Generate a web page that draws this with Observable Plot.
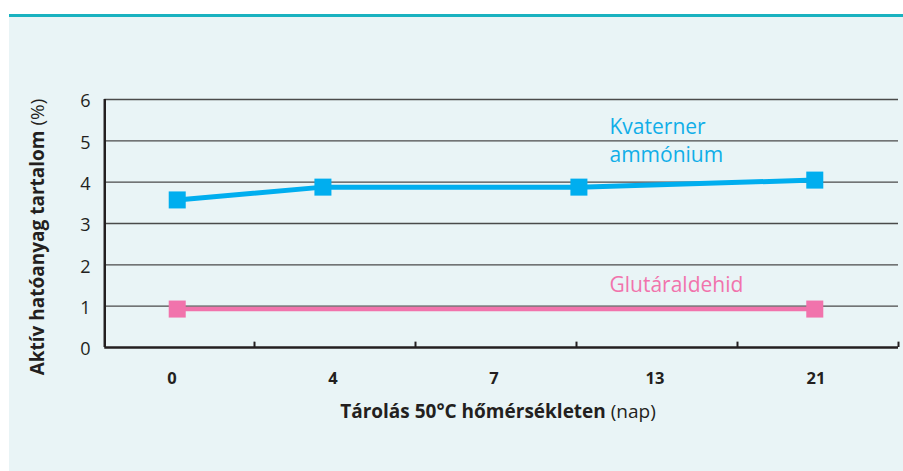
<!DOCTYPE html>
<html>
<head>
<meta charset="utf-8">
<script src="https://cdn.jsdelivr.net/npm/d3@7"></script>
<script src="https://cdn.jsdelivr.net/npm/@observablehq/plot@0.6"></script>
<style>
  html, body { margin: 0; padding: 0; background: #ffffff; }
  #wrap { position: relative; width: 903px; height: 471px; overflow: hidden; font-family: "Open Sans", sans-serif; }
  #bg { position: absolute; left: 9px; top: 17px; right: 0; bottom: 0; background: #e9f4f6; }
  #topline { position: absolute; left: 9px; top: 14px; right: 0; height: 3px; background: #19b2c0; }
  #chart { position: absolute; left: 0; top: 0; }
</style>
</head>
<body>
<div id="wrap">
  <div id="bg"></div>
  <div id="topline"></div>
  <div id="chart"></div>
</div>
<script>
// Category tick labels (storage days)
const dayLabels = ["0", "4", "7", "13", "21"];
// Y tick values
const yTicks = [0, 1, 2, 3, 4, 5, 6];
// Kvaterner ammónium: positions along category axis and values (%)
const quatPos = [0.02, 0.925, 2.515, 3.98];
const quatVal = [3.57, 3.88, 3.88, 4.05];
// Glutáraldehid
const glutPos = [0.02, 3.98];
const glutVal = [0.93, 0.93];
// Series names
const seriesNames = ["Kvaterner\nammónium", "Glutáraldehid"];

const quat = quatPos.map((x, i) => ({x, y: quatVal[i]}));
const glut = glutPos.map((x, i) => ({x, y: glutVal[i]}));
const bandEdges = dayLabels.map((d, i) => i + 0.5);
const axisStart = -0.43;
const axisEnd = dayLabels.length - 0.5;

const blue = "#00aeef";
const pink = "#f173ac";
const ink = "#231f20";

const plot = Plot.plot({
  width: 903,
  height: 471,
  marginLeft: 93,
  marginRight: 5,
  marginTop: 99,
  marginBottom: 124,
  style: {background: "transparent", fontFamily: "'Open Sans', sans-serif", color: ink, overflow: "visible"},
  x: {domain: [-0.5, axisEnd], axis: null},
  y: {domain: [0, 6], axis: null},
  marks: [
    Plot.ruleY(yTicks.filter(d => d > 0), {x1: axisStart, x2: axisEnd, stroke: "#4a4a4a", strokeWidth: 1.4}),
    Plot.axisY(yTicks, {label: null, tickSize: 0, tickPadding: 3, fontSize: 18, dy: 2, fill: ink}),
    Plot.ruleX(bandEdges, {y1: 0, y2: 0.13, stroke: ink, strokeWidth: 2}),
    Plot.ruleY([0], {x1: axisStart, x2: axisEnd, stroke: ink, strokeWidth: 2.5}),
    Plot.ruleX([axisStart], {y1: 0, y2: 6, stroke: ink, strokeWidth: 2.5}),
    Plot.axisX(dayLabels.map((d, i) => i), {
      label: null, tickSize: 0, tickPadding: 25, tickFormat: i => dayLabels[i],
      fontSize: 16.5, fontWeight: "bold", dx: -2, fill: ink
    }),
    Plot.line(glut, {x: "x", y: "y", stroke: pink, strokeWidth: 4.5}),
    Plot.dot(glut, {x: "x", y: "y", symbol: "square", r: 9.6, fill: pink}),
    Plot.line(quat, {x: "x", y: "y", stroke: blue, strokeWidth: 5}),
    Plot.dot(quat, {x: "x", y: "y", symbol: "square", r: 9.6, fill: blue}),
    Plot.text([seriesNames[0]], {x: 2.705, y: 4.5, text: d => d, textAnchor: "start", lineAnchor: "bottom", lineHeight: 1.33, fontSize: 21, fill: "#10aee8"}),
    Plot.text([seriesNames[1]], {x: 2.705, y: 1.34, text: d => d, textAnchor: "start", lineAnchor: "bottom", fontSize: 21, fill: pink})
  ]
});

document.getElementById("chart").appendChild(plot);

// Axis titles with mixed weights
const svg = d3.select(plot);
const yt = svg.append("text")
  .attr("transform", "translate(44,237) rotate(-90)")
  .attr("text-anchor", "middle")
  .attr("font-size", 19)
  .attr("fill", ink);
yt.append("tspan").attr("font-weight", "bold").text("Aktív hatóanyag tartalom ");
yt.append("tspan").attr("font-weight", "normal").text("(%)");

const xt = svg.append("text")
  .attr("x", 498).attr("y", 418)
  .attr("text-anchor", "middle")
  .attr("font-size", 19)
  .attr("fill", ink);
xt.append("tspan").attr("font-weight", "bold").text("Tárolás 50°C hőmérsékleten ");
xt.append("tspan").attr("font-weight", "normal").text("(nap)");
</script>
</body>
</html>
